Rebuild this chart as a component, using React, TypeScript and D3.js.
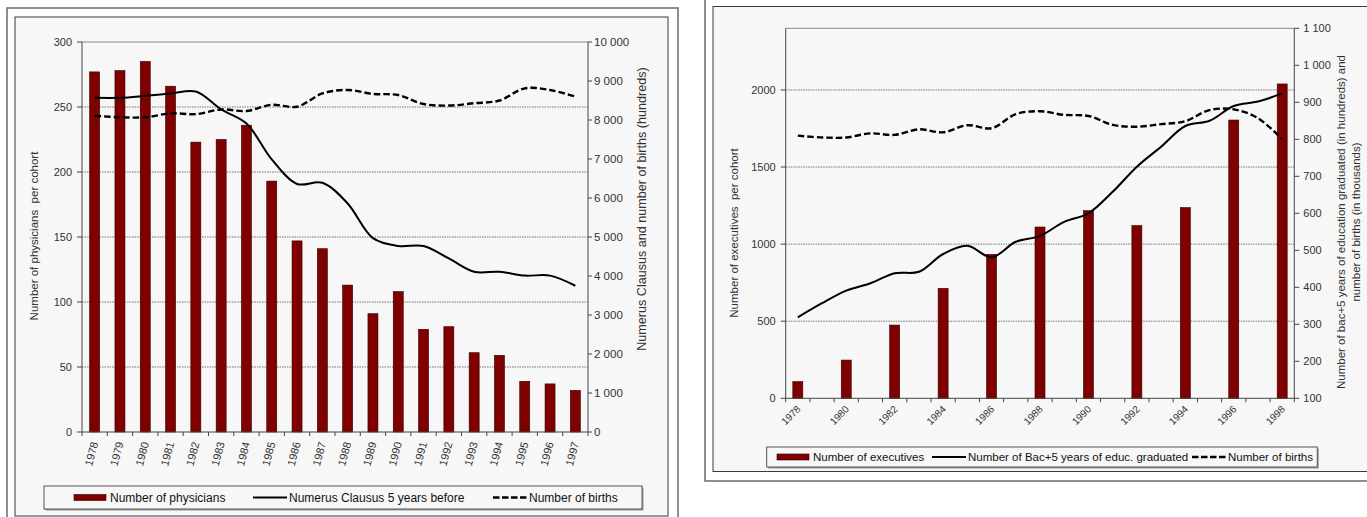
import React from 'react';
import * as d3 from 'd3';

// ---------- Left chart data ----------
const physYears = ['1978', '1979', '1980', '1981', '1982', '1983', '1984', '1985', '1986', '1987', '1988', '1989', '1990', '1991', '1992', '1993', '1994', '1995', '1996', '1997'];
const physicians = [277, 278, 285, 266, 223, 225, 236, 193, 147, 141, 113, 91, 108, 79, 81, 61, 59, 39, 37, 32];
const numerusClausus = [8570, 8570, 8620, 8680, 8730, 8270, 7910, 6990, 6360, 6390, 5860, 4970, 4770, 4770, 4450, 4110, 4110, 4010, 4010, 3750];
const birthsA = [8110, 8070, 8070, 8170, 8150, 8270, 8230, 8390, 8340, 8680, 8770, 8670, 8640, 8410, 8370, 8430, 8500, 8810, 8770, 8600];
const physTicks = [0, 50, 100, 150, 200, 250, 300];
const hundredsTicks = [0, 1000, 2000, 3000, 4000, 5000, 6000, 7000, 8000, 9000, 10000];

// ---------- Right chart data ----------
const execYears = ['1978', '1979', '1980', '1981', '1982', '1983', '1984', '1985', '1986', '1987', '1988', '1989', '1990', '1991', '1992', '1993', '1994', '1995', '1996', '1997', '1998'];
const executives: (number | null)[] = [108, null, 248, null, 475, null, 713, null, 934, null, 1111, null, 1217, null, 1120, null, 1237, null, 1805, null, 2039];
const graduates = [319, 357, 391, 411, 438, 442, 490, 512, 481, 523, 539, 577, 600, 658, 726, 780, 836, 850, 890, 902, 924];
const birthsB = [810, 805, 805, 816, 812, 827, 819, 838, 830, 868, 876, 866, 863, 839, 834, 841, 849, 879, 881, 857, 800];
const execTicks = [0, 500, 1000, 1500, 2000];
const gradTicks = [100, 200, 300, 400, 500, 600, 700, 800, 900, 1000, 1100];
const execLabelYears = ['1978', '1980', '1982', '1984', '1986', '1988', '1990', '1992', '1994', '1996', '1998'];

const FONT = "'Liberation Sans', Arial, sans-serif";
const BAR = '#800000';
const BAR_STROKE = '#2a0000';
const TXT = '#333';
const GRID = '#555';

const fmtSpace = (v: number) => d3.format(',')(v).replace(/,/g, '\u00a0');

function Legend({ x, y, w, h, items, fs }: { x: number; y: number; w: number; h: number; fs: number; items: { kind: string; sx: number; label: string }[] }) {
  const cy = y + h / 2;
  return (
    <g>
      <rect x={x + 1.5} y={y + 1.5} width={w} height={h} fill="#9a9a9a" />
      <rect x={x} y={y} width={w} height={h} fill="#f7f7f7" stroke="#555" strokeWidth={1} />
      {items.map((it, i) => (
        <g key={i}>
          {it.kind === 'bar' && <rect x={it.sx} y={cy - 3} width={32} height={6} fill={BAR} stroke={BAR_STROKE} strokeWidth={0.6} />}
          {it.kind === 'solid' && <line x1={it.sx} x2={it.sx + 34} y1={cy} y2={cy} stroke="#000" strokeWidth={2} />}
          {it.kind === 'dash' && <line x1={it.sx} x2={it.sx + 34} y1={cy} y2={cy} stroke="#000" strokeWidth={2.4} strokeDasharray="6.5,2.5" />}
          <text x={it.sx + 36} y={cy} dy="0.35em" fontSize={fs} fill="#111">{it.label}</text>
        </g>
      ))}
    </g>
  );
}

function LeftChart() {
  const x0 = 82, x1 = 588, yTop = 42, yBot = 432;
  const x = d3.scaleBand<string>().domain(physYears).range([x0, x1]).padding(0);
  const yL = d3.scaleLinear().domain([0, 300]).range([yBot, yTop]);
  const yR = d3.scaleLinear().domain([0, 10000]).range([yBot, yTop]);
  const bw = x.bandwidth();
  const cx = (d: string) => (x(d) as number) + bw / 2;
  const line = d3.line<number>()
    .x((_, i) => cx(physYears[i]))
    .y((v) => yR(v))
    .curve(d3.curveCatmullRom.alpha(0.5));
  const bounds = d3.range(physYears.length + 1).map((i) => x0 + i * bw);
  return (
    <g>
      <rect x={7} y={8} width={671} height={520} fill="#fff" stroke="#6a6a6a" strokeWidth={1.5} />
      <rect x={15} y={17} width={653} height={499} fill="#f7f7f7" stroke="#3a3a3a" strokeWidth={1} />
      {physTicks.filter((t) => t > 0 && t < 300).map((t) => (
        <line key={t} x1={x0} x2={x1} y1={yL(t)} y2={yL(t)} stroke={GRID} strokeWidth={0.8} strokeDasharray="1.5,1" />
      ))}
      <line x1={x0} x2={x1} y1={yTop} y2={yTop} stroke="#888" strokeWidth={1} />
      {physicians.map((v, i) => (
        <rect key={i} x={cx(physYears[i]) - 5} y={yL(v)} width={10} height={yBot - yL(v)} fill={BAR} stroke={BAR_STROKE} strokeWidth={0.6} />
      ))}
      <path d={line(birthsA) || ''} fill="none" stroke="#000" strokeWidth={2.4} strokeDasharray="6.5,3" />
      <path d={line(numerusClausus) || ''} fill="none" stroke="#000" strokeWidth={2} />
      <line x1={x0} x2={x0} y1={yTop} y2={yBot} stroke="#444" strokeWidth={1} />
      <line x1={x1} x2={x1} y1={yTop} y2={yBot} stroke="#444" strokeWidth={1} />
      <line x1={x0} x2={x1} y1={yBot} y2={yBot} stroke="#444" strokeWidth={1} />
      {physTicks.map((t) => (
        <g key={t}>
          <line x1={x0 - 5} x2={x0} y1={yL(t)} y2={yL(t)} stroke="#444" />
          <text x={x0 - 10} y={yL(t)} dy="0.35em" textAnchor="end" fontSize={11} fill={TXT}>{t}</text>
        </g>
      ))}
      {hundredsTicks.map((t) => (
        <g key={t}>
          <line x1={x1} x2={x1 + 4} y1={yR(t)} y2={yR(t)} stroke="#444" />
          <text x={x1 + 6} y={yR(t)} dy="0.35em" fontSize={11.5} fill={TXT}>{fmtSpace(t)}</text>
        </g>
      ))}
      {bounds.map((b, i) => (
        <line key={i} x1={b} x2={b} y1={yBot} y2={yBot + 4} stroke="#444" />
      ))}
      {physYears.map((d) => (
        <text key={d} transform={`translate(${cx(d)},${yBot + 10}) rotate(-75)`} dy="0.35em" textAnchor="end" fontSize={11} fill={TXT}>{d}</text>
      ))}
      <text transform={`translate(38,236) rotate(-90)`} textAnchor="middle" fontSize={11.5} fill={TXT} style={{ whiteSpace: 'pre' }}>{'Number of physicians  per cohort'}</text>
      <text transform={`translate(646,209) rotate(-90)`} textAnchor="middle" fontSize={12.6} fill={TXT}>Numerus Clausus and number of births (hundreds)</text>
      <Legend x={44} y={486} w={598} h={23} fs={12} items={[
        { kind: 'bar', sx: 74, label: 'Number of physicians' },
        { kind: 'solid', sx: 253, label: 'Numerus Clausus 5 years before' },
        { kind: 'dash', sx: 493, label: 'Number of births' },
      ]} />
    </g>
  );
}

function RightChart() {
  const x0 = 785.7, x1 = 1294.3, yTop = 28.3, yBot = 398.3;
  const x = d3.scaleBand<string>().domain(execYears).range([x0, x1]).padding(0);
  const yL = d3.scaleLinear().domain([0, 2400]).range([yBot, yTop]);
  const yR = d3.scaleLinear().domain([100, 1100]).range([yBot, yTop]);
  const bw = x.bandwidth();
  const cx = (d: string) => (x(d) as number) + bw / 2;
  const line = d3.line<number>()
    .x((_, i) => cx(execYears[i]))
    .y((v) => yR(v))
    .curve(d3.curveCatmullRom.alpha(0.5));
  const bounds = d3.range(execYears.length + 1).map((i) => x0 + i * bw);
  return (
    <g>
      <rect x={705} y={-5} width={700} height={486} fill="#fff" stroke="#6a6a6a" strokeWidth={1.5} />
      <rect x={713} y={6.5} width={700} height={465} fill="#f7f7f7" stroke="#3a3a3a" strokeWidth={1} />
      {execTicks.filter((t) => t > 0).map((t) => (
        <line key={t} x1={x0} x2={x1} y1={yL(t)} y2={yL(t)} stroke={GRID} strokeWidth={0.8} strokeDasharray="1.5,1" />
      ))}
      <line x1={x0} x2={x1} y1={yTop} y2={yTop} stroke="#888" strokeWidth={1} />
      {executives.map((v, i) => v == null ? null : (
        <rect key={i} x={cx(execYears[i]) - 5} y={yL(v)} width={10} height={yBot - yL(v)} fill={BAR} stroke={BAR_STROKE} strokeWidth={0.6} />
      ))}
      <path d={line(birthsB) || ''} fill="none" stroke="#000" strokeWidth={2.4} strokeDasharray="6.5,3" />
      <path d={line(graduates) || ''} fill="none" stroke="#000" strokeWidth={2} />
      <line x1={x0} x2={x0} y1={yTop} y2={yBot} stroke="#444" strokeWidth={1} />
      <line x1={x1} x2={x1} y1={yTop} y2={yBot} stroke="#444" strokeWidth={1} />
      <line x1={x0} x2={x1} y1={yBot} y2={yBot} stroke="#444" strokeWidth={1} />
      {execTicks.map((t) => (
        <g key={t}>
          <line x1={x0 - 5} x2={x0} y1={yL(t)} y2={yL(t)} stroke="#444" />
          <text x={x0 - 10} y={yL(t)} dy="0.35em" textAnchor="end" fontSize={11} fill={TXT}>{t}</text>
        </g>
      ))}
      {gradTicks.map((t) => (
        <g key={t}>
          <line x1={x1} x2={x1 + 5} y1={yR(t)} y2={yR(t)} stroke="#444" />
          <text x={x1 + 9} y={yR(t)} dy="0.35em" fontSize={11} fill={TXT}>{fmtSpace(t)}</text>
        </g>
      ))}
      {bounds.map((b, i) => (
        <line key={i} x1={b} x2={b} y1={yBot} y2={yBot + 4} stroke="#444" />
      ))}
      {execLabelYears.map((d) => (
        <text key={d} transform={`translate(${cx(d) + 1},${yBot + 9}) rotate(-45)`} dy="0.35em" textAnchor="end" fontSize={10} fill={TXT}>{d}</text>
      ))}
      <text transform={`translate(738,233) rotate(-90)`} textAnchor="middle" fontSize={11.5} fill={TXT} style={{ whiteSpace: 'pre' }}>{'Number of executives  per cohort'}</text>
      <text transform={`translate(1345,222) rotate(-90)`} textAnchor="middle" fontSize={11.5} fill={TXT}>Number of bac+5 years of education graduated (in hundreds) and</text>
      <text transform={`translate(1360,222) rotate(-90)`} textAnchor="middle" fontSize={11.5} fill={TXT}>number of births (in thousands)</text>
      <Legend x={766.7} y={447} w={550.6} h={20} fs={11.5} items={[
        { kind: 'bar', sx: 777, label: 'Number of executives' },
        { kind: 'solid', sx: 932, label: 'Number of Bac+5 years of educ. graduated' },
        { kind: 'dash', sx: 1192, label: 'Number of births' },
      ]} />
    </g>
  );
}

export default function App() {
  return (
    <svg width={1367} height={517} viewBox="0 0 1367 517" style={{ position: 'absolute', left: 0, top: 0, display: 'block', background: '#fff' }} fontFamily={FONT}>
      <LeftChart />
      <RightChart />
    </svg>
  );
}
